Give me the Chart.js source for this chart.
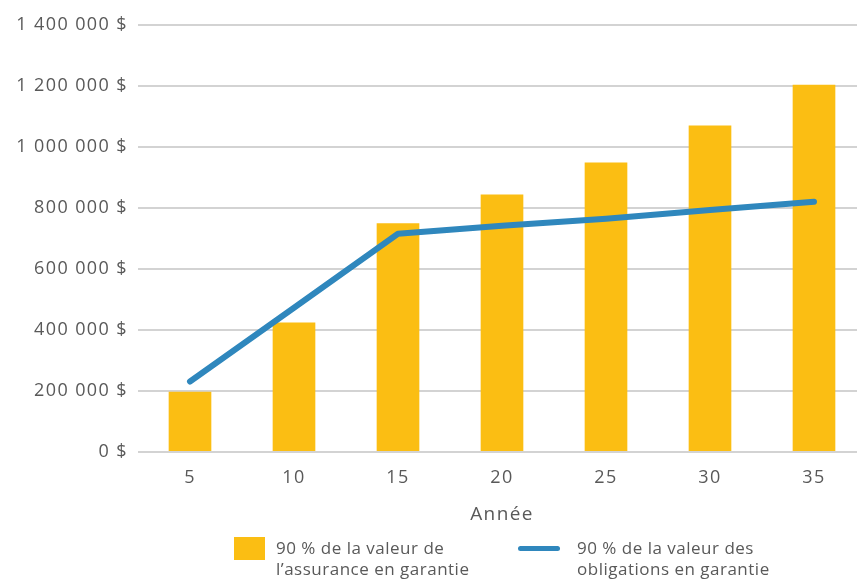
<!DOCTYPE html>
<html lang="fr">
<head>
<meta charset="utf-8">
<script src="https://cdn.jsdelivr.net/npm/chart.js@4/dist/chart.umd.min.js"></script>
<style>
    html, body { margin: 0; padding: 0; background: #fff; overflow: hidden; }
    #wrap { position: relative; width: 866px; height: 581px; }
    #chart { position: absolute; left: 0; top: 0; }
    .legend { position: absolute; top: 537px; display: flex; align-items: flex-start;
              font-family: "Open Sans", sans-serif; font-size: 17px; line-height: 21px;
              color: #595959; letter-spacing: 0.5px; }
    .legend .box { width: 31px; height: 23px; background: #fbbe13; margin-right: 11px; }
    .legend .line { width: 42px; height: 5px; border-radius: 3px; background: #2f87bd;
                    margin-top: 9px; margin-right: 17px; }
</style>
</head>
<body>
<div id="wrap">
    <canvas id="chart" width="866" height="581"></canvas>
    <div class="legend" style="left:234px"><div class="box"></div><div>90 % de la valeur de<br>l’assurance en garantie</div></div>
    <div class="legend" style="left:518px"><div class="line"></div><div>90 % de la valeur des<br>obligations en garantie</div></div>
</div>
<script>
// Years on the x axis
const years = ['5', '10', '15', '20', '25', '30', '35'];
// 90 % of insurance value (bars)
const insuranceValues = [195000, 423000, 748000, 843000, 948000, 1069000, 1203000];
// 90 % of bond value (line)
const bondValues = [230000, 472000, 715000, 741000, 764000, 793000, 820000];

const textColor = '#595959';
const tickFont = { family: "'Open Sans', sans-serif", size: 18 };

function formatDollars(value) {
    // French style thousands: 1 400 000 $
    return value.toString().replace(/\B(?=(\d{3})+(?!\d))/g, ' ') + ' $';
}

// Spread letters a bit, like the original typeface
const spacingPlugin = {
    id: 'spacing',
    beforeInit(chart) {
        chart.ctx.letterSpacing = '1.4px';
    },
    beforeDraw(chart) {
        chart.ctx.letterSpacing = '1.4px';
    }
};

new Chart(document.getElementById('chart'), {
    data: {
        labels: years,
        datasets: [
            {
                type: 'line',
                label: '90 % de la valeur des obligations en garantie',
                data: bondValues,
                borderColor: '#2f87bd',
                borderWidth: 6,
                borderCapStyle: 'round',
                borderJoinStyle: 'round',
                pointRadius: 0,
                tension: 0,
                order: 0
            },
            {
                type: 'bar',
                label: '90 % de la valeur de l’assurance en garantie',
                data: insuranceValues,
                backgroundColor: '#fbbe13',
                barThickness: 42,
                order: 1
            }
        ]
    },
    options: {
        responsive: false,
        animation: false,
        layout: { padding: { top: 25, right: 0, bottom: 55, left: 0 } },
        plugins: {
            legend: { display: false },
            tooltip: { enabled: false }
        },
        scales: {
            x: {
                grid: { display: false },
                border: { display: false },
                ticks: { color: textColor, font: tickFont, padding: 7 },
                title: {
                    display: true,
                    text: 'Année',
                    color: textColor,
                    font: { family: "'Open Sans', sans-serif", size: 19 },
                    padding: { top: 8, bottom: 0 }
                }
            },
            y: {
                min: 0,
                max: 1400000,
                afterFit(scale) { scale.width = 138; },
                grid: { color: '#d3d3d3', lineWidth: 2, drawTicks: false },
                border: { display: false },
                ticks: {
                    stepSize: 200000,
                    color: textColor,
                    font: tickFont,
                    padding: 10,
                    callback: value => formatDollars(value)
                }
            }
        }
    },
    plugins: [spacingPlugin]
});
</script>
</body>
</html>
